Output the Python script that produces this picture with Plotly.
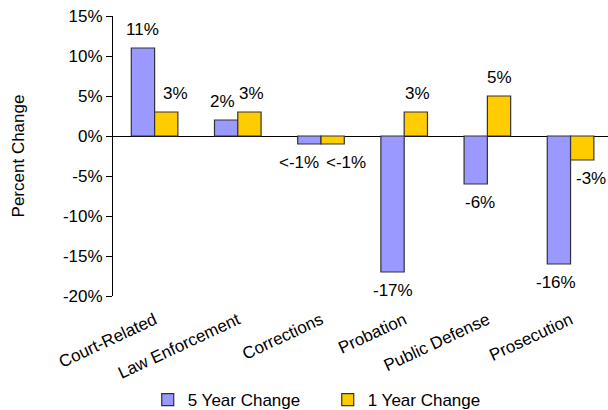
import plotly.graph_objects as go

# Budget change by function
categories = ["Court-Related", "Law Enforcement", "Corrections", "Probation",
              "Public Defense", "Prosecution"]
five_year = [11, 2, -1, -17, -6, -16]
one_year = [3, 3, -1, 3, 5, -3]
five_year_labels = ["11%", "2%", "<-1%", "-17%", "-6%", "-16%"]
one_year_labels = ["3%", "3%", "<-1%", "3%", "5%", "-3%"]
y_ticks = [-20, -15, -10, -5, 0, 5, 10, 15]
y_tick_text = [f"{t}%" for t in y_ticks]

FONT = "Arial, Liberation Sans, sans-serif"
FS = 17
BLUE = "#9999FF"
GOLD = "#FFCC00"
OUTLINE = "#333333"

fig = go.Figure()
fig.add_trace(go.Bar(name="5 Year Change", x=categories, y=five_year,
                     marker=dict(color=BLUE, line=dict(color=OUTLINE, width=1.2))))
fig.add_trace(go.Bar(name="1 Year Change", x=categories, y=one_year,
                     marker=dict(color=GOLD, line=dict(color=OUTLINE, width=1.2))))

# value labels sit beyond the bar end; small sideways nudges keep neighbours apart
five_nudge = [0, -4, -10, 0, 4, -3]
one_nudge = [9, 2, 13, 2, 0, 9]
half = 0.14
for i, cat in enumerate(categories):
    for vals, labels, nudge, off in ((five_year, five_year_labels, five_nudge, -half),
                                     (one_year, one_year_labels, one_nudge, half)):
        v = vals[i]
        fig.add_annotation(x=i + off, y=v, xref="x", yref="y", text=labels[i],
                           showarrow=False, yanchor="middle", xanchor="center",
                           yshift=19 if v > 0 else -18, xshift=nudge[i],
                           font=dict(family=FONT, size=FS, color="black"))

fig.update_layout(
    width=608, height=410,
    margin=dict(l=113, r=0, t=16, b=114, autoexpand=False),
    paper_bgcolor="white", plot_bgcolor="white",
    barmode="group", bargap=0.44, bargroupgap=0,
    font=dict(family=FONT, size=FS, color="black"),
    showlegend=True,
    legend=dict(orientation="h", xref="container", yref="container",
                x=0.243, xanchor="left", y=0.024, yanchor="middle",
                font=dict(family=FONT, size=FS, color="black"),
                traceorder="normal", itemwidth=30, entrywidth=135),
)
fig.update_xaxes(range=[-0.5, 5.45], tickangle=-25, showline=False, ticks="",
                 showgrid=False, zeroline=False, automargin=False,
                 ticklabelstandoff=10,
                 tickfont=dict(family=FONT, size=FS, color="black"))
fig.update_yaxes(range=[-20, 15], tickvals=y_ticks, ticktext=y_tick_text,
                 showline=True, linecolor="black", linewidth=1,
                 ticks="outside", ticklen=6, tickcolor="black",
                 showgrid=False, zeroline=True, zerolinecolor="black", zerolinewidth=1,
                 automargin=False,
                 title=dict(text="Percent Change", font=dict(family=FONT, size=FS, color="black"),
                            standoff=33),
                 tickfont=dict(family=FONT, size=FS, color="black"))

fig.write_html("out.html")
